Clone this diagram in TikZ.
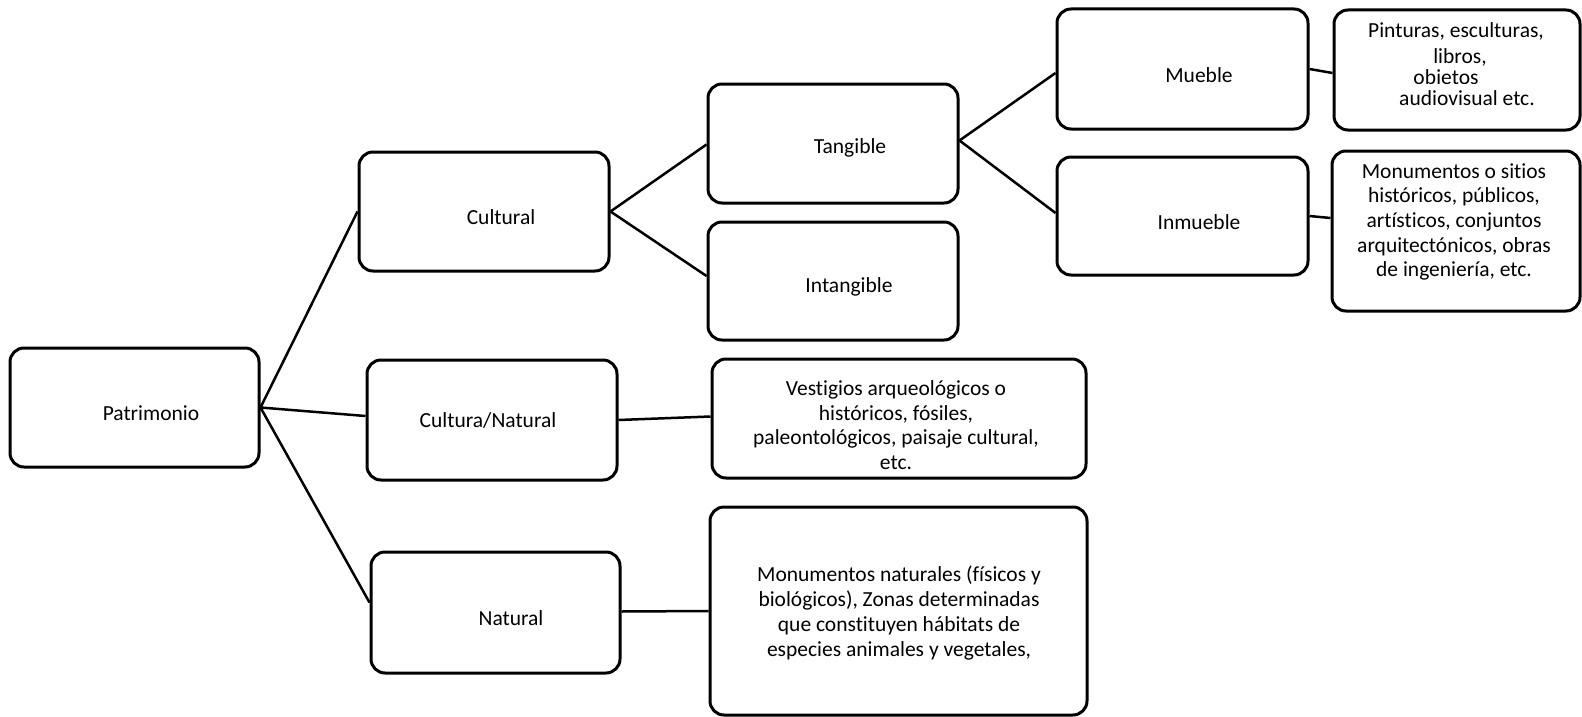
\documentclass[tikz,border=0pt]{standalone}
\usepackage{fontspec}
\setmainfont{Carlito}[Ligatures={NoCommon}]
\usetikzlibrary{calc}
\begin{document}
\begin{tikzpicture}[x=1pt,y=-1pt,
  box/.style={draw,line width=3pt,rounded corners=14pt,inner sep=0pt},
  txt/.style={font=\fontsize{21.5}{24.7}\selectfont,align=center,inner sep=0pt},
  conn/.style={line width=2.5pt}]
\useasboundingbox (0,0) rectangle (1582,717);
% boxes
\node[box,minimum width=249pt,minimum height=119pt] (pat) at (134.5,407.5) {};
\node[box,minimum width=250pt,minimum height=119pt] (cul) at (484,211.5) {};
\node[box,minimum width=250pt,minimum height=119pt] (tan) at (833,143.5) {};
\node[box,minimum width=250pt,minimum height=118pt] (int) at (833,281) {};
\node[box,minimum width=251pt,minimum height=120pt] (mue) at (1182.5,69) {};
\node[box,minimum width=246pt,minimum height=120pt] (pin) at (1457,70) {};
\node[box,minimum width=251pt,minimum height=118pt] (inm) at (1182.5,216) {};
\node[box,minimum width=248pt,minimum height=160pt] (mon) at (1456,231) {};
\node[box,minimum width=250pt,minimum height=120pt] (cn) at (492,420) {};
\node[box,minimum width=374pt,minimum height=119pt] (ves) at (899,418.5) {};
\node[box,minimum width=249pt,minimum height=121pt] (nat) at (495.5,612.5) {};
\node[box,minimum width=377pt,minimum height=208pt] (mnat) at (898.5,611) {};
% labels
\node[txt] (tpat) at (151,413) {Patrimonio};
\node[txt] (tcul) at (501,217) {Cultural};
\node[txt] (ttan) at (850,148) {Tangible};
\node[txt] (tint) at (849,287) {Intangible};
\node[txt] (tmue) at (1199,75) {Mueble};
\node[txt] (tinm) at (1199,222) {Inmueble};
\node[txt] (tcn) at (488,420) {Cultura/Natural};
\node[txt] (tnat) at (511,618) {Natural};
\node[txt] (tp1) at (1456,31) {Pinturas, esculturas,};
\node[txt] (tp2) at (1460,57) {libros,};
\begin{scope}
\clip (1400,66) rectangle (1500,83);
\node[txt] (tp3) at (1446,79) {objetos};
\end{scope}
\node[txt] (tp4) at (1467,98) {audiovisual etc.};
\node[txt] (tmon) at (1454,222) {Monumentos o sitios\\históricos, públicos,\\artísticos, conjuntos\\arquitectónicos, obras\\de ingeniería, etc.};
\node[txt] (tves) at (896,425) {Vestigios arqueológicos o\\históricos, fósiles,\\paleontológicos, paisaje cultural,\\etc.};
\node[txt] (tmnat) at (899,613) {Monumentos naturales (físicos y\\biológicos), Zonas determinadas\\que constituyen hábitats de\\especies animales y vegetales,};
% connectors
\draw[conn] (pat.east) -- (cul.west);
\draw[conn] (pat.east) -- ($(cn.west)+(0,-4)$);
\draw[conn] (pat.east) -- ($(nat.west)+(0,-10)$);
\draw[conn] (cul.east) -- ($(tan.west)+(0,1)$);
\draw[conn] (cul.east) -- ($(int.west)+(0,-5)$);
\draw[conn] ($(tan.east)+(0,-3)$) -- ($(mue.west)+(0,4)$);
\draw[conn] ($(tan.east)+(0,-3)$) -- ($(inm.west)+(0,-3)$);
\draw[conn] (mue.east) -- ($(pin.west)+(0,3)$);
\draw[conn] (inm.east) -- ($(mon.west)+(0,-13)$);
\draw[conn] (cn.east) -- ($(ves.west)+(0,-2)$);
\draw[conn] ($(nat.east)+(0,-1)$) -- ($(mnat.west)+(0,0)$);
\end{tikzpicture}
\end{document}
